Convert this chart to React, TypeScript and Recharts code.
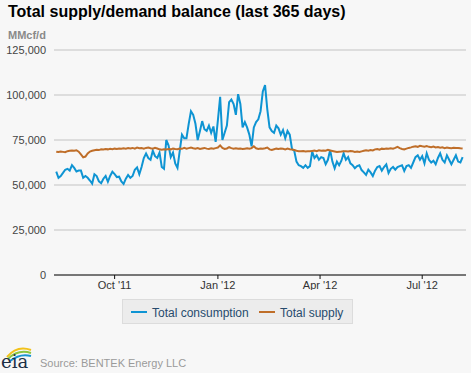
import React from 'react';
import { LineChart, Line, XAxis, YAxis, CartesianGrid } from 'recharts';

// day 0 = Aug 8 2011, one reading every second day from Aug 10 2011
const firstDay = 2;
const dayStep = 2;

// thousand MMcf/d
const consumption = [
  57.4, 54.0, 55.0, 56.7, 58.5, 59.0, 58.0, 61.0, 59.5, 57.5,
  58.0, 58.0, 54.0, 55.0, 54.0, 52.5, 50.8, 56.0, 55.0, 52.0,
  51.0, 53.5, 55.0, 51.8, 55.0, 57.4, 56.0, 54.4, 54.6, 52.0,
  50.6, 53.5, 55.6, 54.0, 55.0, 58.5, 59.8, 56.0, 60.0, 65.0,
  67.5, 65.0, 64.0, 69.0, 66.0, 65.0, 68.0, 60.0, 59.0, 75.0,
  72.0, 65.5, 68.0, 62.0, 59.5, 68.9, 78.0, 76.0, 76.0, 84.0,
  91.0, 89.0, 84.0, 75.0, 80.0, 85.5, 81.0, 80.0, 83.0, 79.0,
  82.5, 74.0, 86.0, 99.0, 75.0, 79.0, 83.0, 96.0, 97.5, 95.0,
  89.0, 100.5, 95.0, 82.0, 85.0, 82.0, 78.0, 71.5, 82.0, 85.0,
  86.5, 91.0, 102.0, 105.5, 92.0, 82.0, 80.0, 79.0, 83.0, 81.5,
  78.0, 80.5, 76.0, 80.0, 78.0, 70.0, 69.0, 63.0, 61.0, 60.5,
  59.5, 61.0, 59.5, 60.5, 68.5, 65.0, 66.5, 64.0, 65.5, 65.0,
  61.5, 64.0, 69.4, 63.0, 59.3, 63.0, 61.0, 63.5, 67.6, 64.0,
  65.5, 62.0, 61.0, 59.3, 60.5, 61.0, 58.3, 57.0, 55.6, 58.5,
  57.0, 55.0, 58.0, 60.0, 60.5, 58.0, 60.0, 61.5, 56.7, 59.0,
  60.0, 58.5, 60.0, 60.5, 61.0, 57.8, 60.5, 61.0, 59.5, 62.5,
  65.5, 66.5, 64.0, 66.0, 62.0, 67.6, 64.0, 62.5, 63.5, 61.5,
  65.0, 67.6, 64.0, 62.5, 66.5, 64.0, 61.5, 64.0, 66.5, 63.0,
  62.5, 65.5,
];

const supply = [
  68.5, 68.3, 68.6, 68.4, 68.2, 68.8, 69.0, 69.2, 69.0, 69.3,
  68.5, 67.0, 65.4, 65.8, 67.5, 68.6, 69.0, 69.3, 69.6, 69.4,
  69.8, 69.7, 70.0, 69.8, 70.1, 69.9, 70.2, 70.0, 70.3, 70.1,
  70.4, 70.2, 70.5, 70.3, 70.6, 70.2, 70.8, 70.4, 70.5, 70.2,
  70.6, 70.8, 70.4, 70.2, 70.7, 70.3, 69.8, 69.6, 69.9, 69.7,
  70.0, 69.8, 70.2, 70.0, 69.9, 70.3, 70.1, 70.6, 70.2, 70.5,
  70.8, 70.4, 70.1, 70.5, 70.0, 70.3, 70.6, 70.2, 70.0, 70.4,
  70.2, 70.5, 70.8, 72.0, 70.6, 70.0, 70.3, 71.0, 70.5, 70.2,
  70.4, 70.1, 70.3, 70.0, 70.2, 70.4, 70.1, 70.5, 71.5, 70.4,
  70.0, 70.3, 70.1, 70.4, 70.8, 69.8, 69.5, 69.9, 70.2, 70.0,
  70.3, 70.1, 69.8, 70.2, 69.9, 69.7, 69.4, 69.0, 68.8, 68.7,
  68.9, 68.6, 68.8, 68.7, 68.9, 69.1, 68.8, 69.3, 69.0, 69.2,
  69.0, 69.5, 69.2, 68.9, 68.6, 68.3, 68.5, 68.6, 68.8, 68.7,
  68.6, 68.9, 68.7, 68.4, 68.6, 68.3, 68.7, 69.0, 69.3, 69.1,
  69.4, 69.2, 69.8, 70.0, 69.6, 70.2, 70.0, 70.3, 70.1, 70.4,
  70.2, 70.6, 71.2, 70.5, 70.0, 69.8, 70.2, 70.6, 70.9, 71.3,
  71.5, 71.2, 71.8, 71.5, 71.3, 71.6, 71.2, 71.0, 71.4, 70.9,
  71.1, 70.7, 70.9, 70.5, 70.8, 70.6, 70.4, 70.7, 70.5, 70.6,
  70.4, 70.3,
];

const monthTicks = [54, 146, 237, 328];
const monthLabels = ["Oct '11", "Jan '12", "Apr '12", "Jul '12"];
const yTicks = [0, 25000, 50000, 75000, 100000, 125000];

const seriesNames = ['Total consumption', 'Total supply'];
const seriesColors = ['#0e94d3', '#bf6e29'];

const data = consumption.map((c, i) => ({
  day: firstDay + i * dayStep,
  consumption: c * 1000,
  supply: supply[i] * 1000,
}));

const font = '"Liberation Sans", Arial, sans-serif';

const EiaLogo = () => (
  <g>
    <path d="M7 357 Q17 345 31 350" stroke="#f2c21b" strokeWidth={2} fill="none" />
    <path d="M8 359 Q18 349 31 353" stroke="#8cc540" strokeWidth={2} fill="none" />
    <path d="M10 361 Q20 353 31 356" stroke="#1a94d2" strokeWidth={2} fill="none" />
    <text x={1} y={368} fontFamily="'DejaVu Serif', serif" fontSize={18} fill="#1d2f45">eia</text>
  </g>
);

export default function App() {
  return (
    <div style={{ position: 'absolute', left: 0, top: 0, width: 471, height: 373, background: '#f7f7f7', fontFamily: font }}>
      <div style={{ position: 'absolute', left: 0, top: 0 }}>
        <LineChart width={471} height={290} data={data} margin={{ top: 50, right: 5, bottom: 0, left: 0 }}>
          <CartesianGrid vertical={false} stroke="#c3c3c3" />
          <XAxis
            type="number"
            dataKey="day"
            domain={[0, 367]}
            ticks={monthTicks}
            tickFormatter={(v) => monthLabels[monthTicks.indexOf(v)]}
            height={15}
            tickSize={4}
            axisLine={{ stroke: '#111' }}
            tickLine={{ stroke: '#111' }}
            tick={{ fontSize: 11, fill: '#333', fontFamily: font }}
          />
          <YAxis
            domain={[0, 125000]}
            ticks={yTicks}
            width={54}
            axisLine={false}
            tickLine={false}
            tickFormatter={(v) => v.toLocaleString('en-US')}
            tick={{ fontSize: 11, fill: '#444', fontFamily: font }}
          />
          <Line type="linear" dataKey="consumption" name={seriesNames[0]} stroke={seriesColors[0]} strokeWidth={2} dot={false} isAnimationActive={false} />
          <Line type="linear" dataKey="supply" name={seriesNames[1]} stroke={seriesColors[1]} strokeWidth={2} dot={false} isAnimationActive={false} />
        </LineChart>
      </div>
      <svg width={471} height={373} style={{ position: 'absolute', left: 0, top: 0, pointerEvents: 'none' }}>
        <text x={8} y={17} fontFamily={font} fontSize={16} fontWeight="bold" fill="#000">
          Total supply/demand balance (last 365 days)
        </text>
        <text x={8} y={39} fontFamily={font} fontSize={11} fontWeight="bold" fill="#8a8a8a">MMcf/d</text>

        <rect x={122.5} y={299.5} width={230} height={24} fill="#ececec" stroke="#dcdcdc" />
        <line x1={131} x2={147} y1={312} y2={312} stroke={seriesColors[0]} strokeWidth={2} />
        <text x={152} y={316.5} fontFamily={font} fontSize={12} fill="#274b6d">{seriesNames[0]}</text>
        <line x1={259} x2={275} y1={312} y2={312} stroke={seriesColors[1]} strokeWidth={2} />
        <text x={280} y={316.5} fontFamily={font} fontSize={12} fill="#274b6d">{seriesNames[1]}</text>

        <EiaLogo />
        <text x={40} y={366.5} fontFamily={font} fontSize={11} fill="#9a9a9a">Source: BENTEK Energy LLC</text>
      </svg>
    </div>
  );
}
